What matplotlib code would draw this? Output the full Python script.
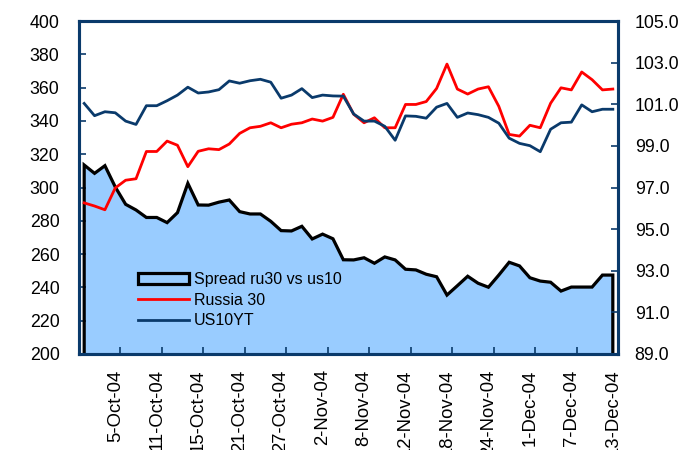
import matplotlib
matplotlib.use("Agg")
import matplotlib.pyplot as plt
from matplotlib.patches import Patch
from matplotlib.lines import Line2D
import pandas as pd
import numpy as np

plt.rcParams['font.family'] = ['Liberation Sans', 'DejaVu Sans']

# ---- data ----
dates = pd.bdate_range('2004-09-30', '2004-12-13')
dates = dates[dates != pd.Timestamp('2004-11-25')]
date_labels = [f"{d.day}-{d:%b-%y}" for d in dates]

spread = [313.5, 308.5, 313.1, 300.3, 289.9, 286.5, 282.0, 282.0, 278.9, 284.9,
          302.5, 289.5, 289.4, 291.2, 292.5, 285.5, 284.1, 284.1, 279.7, 274.1,
          273.9, 276.7, 269.1, 272.0, 269.2, 256.6, 256.5, 257.8, 254.5, 258.3,
          256.5, 250.9, 250.5, 247.9, 246.4, 235.4, 241.0, 246.7, 242.5, 240.1,
          247.4, 255.1, 252.9, 245.8, 243.8, 243.1, 237.8, 240.2, 240.2, 240.2,
          247.4, 247.4]

russia30 = [96.26, 96.11, 95.93, 96.98, 97.35, 97.42, 98.73, 98.73, 99.23, 99.03,
            98.00, 98.74, 98.86, 98.82, 99.09, 99.60, 99.87, 99.94, 100.11, 99.87,
            100.04, 100.11, 100.29, 100.19, 100.37, 101.48, 100.52, 100.11, 100.35, 99.87,
            99.87, 100.99, 100.99, 101.13, 101.76, 102.93, 101.73, 101.49, 101.73, 101.84,
            100.90, 99.55, 99.47, 99.99, 99.87, 101.05, 101.79, 101.69, 102.55, 102.18,
            101.69, 101.73]

us10yt = [101.04, 100.45, 100.64, 100.59, 100.19, 100.03, 100.93, 100.93, 101.17, 101.44,
          101.82, 101.54, 101.59, 101.70, 102.12, 102.01, 102.13, 102.20, 102.06, 101.29,
          101.44, 101.75, 101.32, 101.44, 101.40, 101.39, 100.53, 100.19, 100.19, 99.94,
          99.27, 100.44, 100.42, 100.33, 100.86, 101.04, 100.37, 100.58, 100.50, 100.37,
          100.09, 99.37, 99.12, 99.01, 98.72, 99.80, 100.11, 100.14, 100.97, 100.64,
          100.76, 100.76]

left_ticks = list(range(200, 401, 20))
right_ticks = [89.0, 91.0, 93.0, 95.0, 97.0, 99.0, 101.0, 103.0, 105.0]
label_every = 4

# ---- style ----
NAVY = '#0A3A6B'
FILL = '#99CCFF'
RED = '#FF0000'
FS_TICK = 12.8
FS_XTICK = 13.3
FS_LEG = 11.5

fig = plt.figure(figsize=(6.87, 4.5), dpi=100)
ax = fig.add_axes([79/687, 1-354/450, (618-79)/687, (354-21)/450])
ax2 = ax.twinx()

n = len(spread)
x = np.arange(n)

ax.fill_between(x, left_ticks[0], spread, color=FILL, lw=0, zorder=1)
ax.plot(np.r_[x[0], x, x[-1]], np.r_[left_ticks[0], spread, left_ticks[0]],
        color='black', lw=2.3, solid_joinstyle='miter', zorder=2, clip_on=False)

ax2.plot(x, russia30, color=RED, lw=2.0, zorder=3)
ax2.plot(x, us10yt, color=NAVY, lw=2.0, zorder=3)

ax.set_xlim(-0.5, n - 0.5)
ax.set_ylim(left_ticks[0], left_ticks[-1])
ax2.set_ylim(right_ticks[0], right_ticks[-1])

ax.set_yticks(left_ticks)
ax.set_yticklabels([str(v) for v in left_ticks], fontsize=FS_TICK)
ax2.set_yticks(right_ticks)
ax2.set_yticklabels([f"{v:.1f}" for v in right_ticks], fontsize=FS_TICK)

lab_pos = x[3::label_every]
ax.set_xticks(lab_pos)
ax.set_xticklabels([date_labels[i] for i in lab_pos], rotation=90, fontsize=FS_XTICK)
ax.set_xticks(np.arange(3.5, n - 1, label_every), minor=True)

ax.tick_params(axis='x', which='major', length=0, pad=11)
ax.tick_params(axis='x', which='minor', direction='in', length=5, width=1.2, color=NAVY)
ax.tick_params(axis='y', direction='in', length=5, width=1.2, color=NAVY, pad=14)
ax2.tick_params(axis='y', direction='in', length=5, width=1.2, color=NAVY, pad=12)

for a in (ax, ax2):
    for s in a.spines.values():
        s.set_color(NAVY)
        s.set_linewidth(2.2)

handles = [Patch(facecolor=FILL, edgecolor='black', linewidth=2.3),
           Line2D([], [], color=RED, lw=2.0),
           Line2D([], [], color=NAVY, lw=2.0)]
labels = ['Spread ru30 vs us10', 'Russia 30', 'US10YT']
ax2.legend(handles, labels, loc='upper left', bbox_to_anchor=(138/687, 1-272/450),
           bbox_transform=fig.transFigure, frameon=False, fontsize=FS_LEG,
           borderpad=0, borderaxespad=0, handlelength=3.2, handleheight=0.7,
           handletextpad=0.3, labelspacing=0.35)

fig.savefig('out.png', dpi=100)
